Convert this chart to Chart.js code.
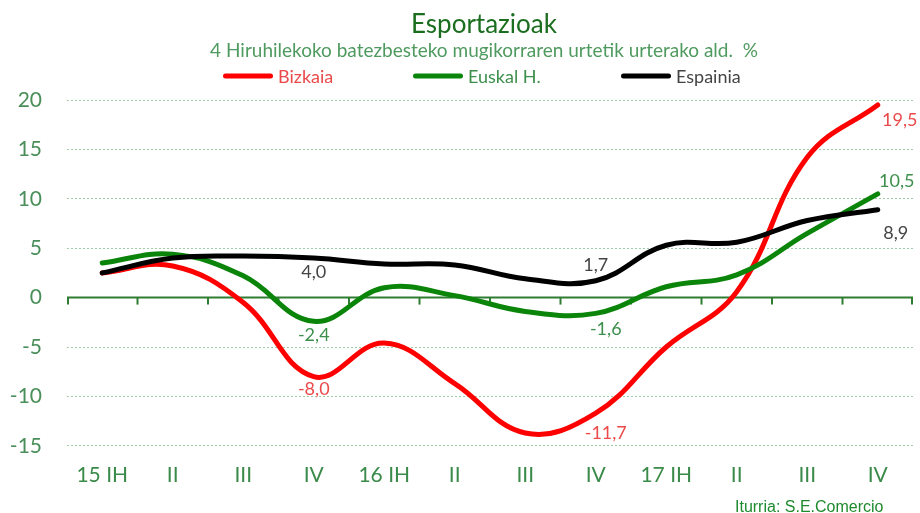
<!DOCTYPE html>
<html>
<head>
<meta charset="utf-8">
<script src="https://cdn.jsdelivr.net/npm/chart.js@4.4.1/dist/chart.umd.min.js"></script>
<style>
  html, body { margin: 0; padding: 0; background: #fff; }
  #wrap { position: relative; width: 920px; height: 513px; }
  #source { position: absolute; left: 735px; top: 498px; font-family: "Liberation Sans", Arial, sans-serif; font-size: 16px; color: #1e8a2e; white-space: nowrap; }
</style>
</head>
<body>
<div id="wrap">
  <canvas id="c" width="920" height="513"></canvas>
  <div id="source">Iturria: S.E.Comercio</div>
</div>
<script>
const categories = ["15 IH", "II", "III", "IV", "16 IH", "II", "III", "IV", "17 IH", "II", "III", "IV"];
const seriesNames = ["Bizkaia", "Euskal H.", "Espainia"];
const bizkaia  = [2.5, 3.2, -0.5, -8.0, -4.6, -8.7, -13.7, -11.7, -5.0, 0.6, 14.2, 19.5];
const euskalH  = [3.5, 4.4, 2.2, -2.4, 1.0, 0.2, -1.4, -1.6, 1.1, 2.3, 6.5, 10.5];
const espainia = [2.5, 4.0, 4.2, 4.0, 3.4, 3.3, 1.9, 1.7, 5.3, 5.6, 7.8, 8.9];
const yTicks = [-15, -10, -5, 0, 5, 10, 15, 20];
const titleText = "Esportazioak";
const subtitleText = "4 Hiruhilekoko batezbesteko mugikorraren urtetik urterako ald.  %";
// which points carry a value label: [datasetIndex, pointIndex]
const labelledPoints = [[0, 3], [0, 7], [0, 11], [1, 3], [1, 7], [1, 11], [2, 3], [2, 7], [2, 11]];

// ---- styles ----
const FONT = "Lato, 'Open Sans', sans-serif";
const lineColors = ["#ff0000", "#0a850a", "#000000"];
const textColors = ["#ea4a4a", "#3d8f4c", "#444444"];
const labelOffsets = {
  "0-3": [0, 13], "0-7": [10, 20], "0-11": [22, 15],
  "1-3": [0, 14], "1-7": [10, 16], "1-11": [19, -13],
  "2-3": [0, 14], "2-7": [0, -16], "2-11": [18, 24]
};
const legendLineX = [223, 413, 621];
const legendY = 76;

const fmt = v => v.toFixed(1).replace(".", ",");

const headerPlugin = {
  id: "header",
  afterDraw(chart) {
    const ctx = chart.ctx;
    ctx.save();
    ctx.textAlign = "center";
    ctx.textBaseline = "alphabetic";
    ctx.fillStyle = "#1b6e1f";
    ctx.font = "26px " + FONT;
    ctx.fillText(titleText, 484, 33);
    ctx.fillStyle = "#4f9a5f";
    ctx.font = "19px " + FONT;
    ctx.fillText(subtitleText, 484, 57);
    ctx.font = "18px " + FONT;
    ctx.textAlign = "left";
    ctx.textBaseline = "middle";
    chart.data.datasets.forEach((ds, i) => {
      const x = legendLineX[i];
      ctx.strokeStyle = ds.borderColor;
      ctx.lineWidth = 5;
      ctx.lineCap = "round";
      ctx.beginPath();
      ctx.moveTo(x + 2.5, legendY);
      ctx.lineTo(x + 47.5, legendY);
      ctx.stroke();
      ctx.fillStyle = textColors[i];
      ctx.fillText(ds.label, x + 55, legendY + 1);
    });
    ctx.restore();
  }
};

const zeroAxisPlugin = {
  id: "zeroAxis",
  beforeDatasetsDraw(chart) {
    const { ctx, chartArea, scales } = chart;
    const x = scales.x, y = scales.y;
    const y0 = y.getPixelForValue(0);
    ctx.save();
    ctx.strokeStyle = "#2e7d32";
    ctx.lineWidth = 2;
    ctx.beginPath();
    ctx.moveTo(chartArea.left, y0);
    ctx.lineTo(chartArea.right, y0);
    ctx.stroke();
    const n = categories.length;
    for (let i = 0; i <= n; i++) {
      let px;
      if (i === 0) px = chartArea.left + 1;
      else if (i === n) px = chartArea.right - 1;
      else px = (x.getPixelForValue(i - 1) + x.getPixelForValue(i)) / 2;
      ctx.beginPath();
      ctx.moveTo(px, y0);
      ctx.lineTo(px, y0 + 7);
      ctx.stroke();
    }
    ctx.restore();
  }
};

const valueLabelPlugin = {
  id: "valueLabels",
  afterDatasetsDraw(chart) {
    const ctx = chart.ctx;
    ctx.save();
    ctx.font = "18px " + FONT;
    ctx.textAlign = "center";
    ctx.textBaseline = "middle";
    labelledPoints.forEach(([di, pi]) => {
      const pt = chart.getDatasetMeta(di).data[pi];
      const v = chart.data.datasets[di].data[pi];
      const [dx, dy] = labelOffsets[di + "-" + pi];
      ctx.fillStyle = textColors[di];
      ctx.fillText(fmt(v), pt.x + dx, pt.y + dy);
    });
    ctx.restore();
  }
};

new Chart(document.getElementById("c"), {
  type: "line",
  data: {
    labels: categories,
    datasets: [
      { label: seriesNames[0], data: bizkaia, borderColor: lineColors[0], backgroundColor: lineColors[0], order: 3 },
      { label: seriesNames[1], data: euskalH, borderColor: lineColors[1], backgroundColor: lineColors[1], order: 2 },
      { label: seriesNames[2], data: espainia, borderColor: lineColors[2], backgroundColor: lineColors[2], order: 1 }
    ]
  },
  options: {
    responsive: false,
    animation: false,
    devicePixelRatio: 1,
    layout: { padding: { left: 9, right: 7, top: 100, bottom: 8 } },
    elements: {
      line: { borderWidth: 5, tension: 0.4, borderCapStyle: "round" },
      point: { radius: 0, hoverRadius: 0 }
    },
    plugins: {
      tooltip: { enabled: false },
      legend: { display: false },
      title: { display: false },
      subtitle: { display: false }
    },
    scales: {
      x: {
        offset: true,
        grid: { display: false, drawTicks: false },
        border: { display: false },
        ticks: { color: "#3a8a4a", font: { family: FONT, size: 21 }, padding: 17, maxRotation: 0, autoSkip: false }
      },
      y: {
        min: -15, max: 20,
        afterBuildTicks(scale) { scale.ticks = yTicks.map(v => ({ value: v })); },
        afterFit(scale) { scale.width = 58; },
        grid: {
          drawTicks: false,
          color: (c) => c.tick && c.tick.value === 0 ? "rgba(0,0,0,0)" : "#9fcba5",
          lineWidth: 1
        },
        border: { display: false, dash: [2, 2] },
        ticks: { color: "#4a8f5a", font: { family: FONT, size: 21 }, padding: 25 }
      }
    }
  },
  plugins: [zeroAxisPlugin, valueLabelPlugin, headerPlugin]
});
</script>
</body>
</html>
